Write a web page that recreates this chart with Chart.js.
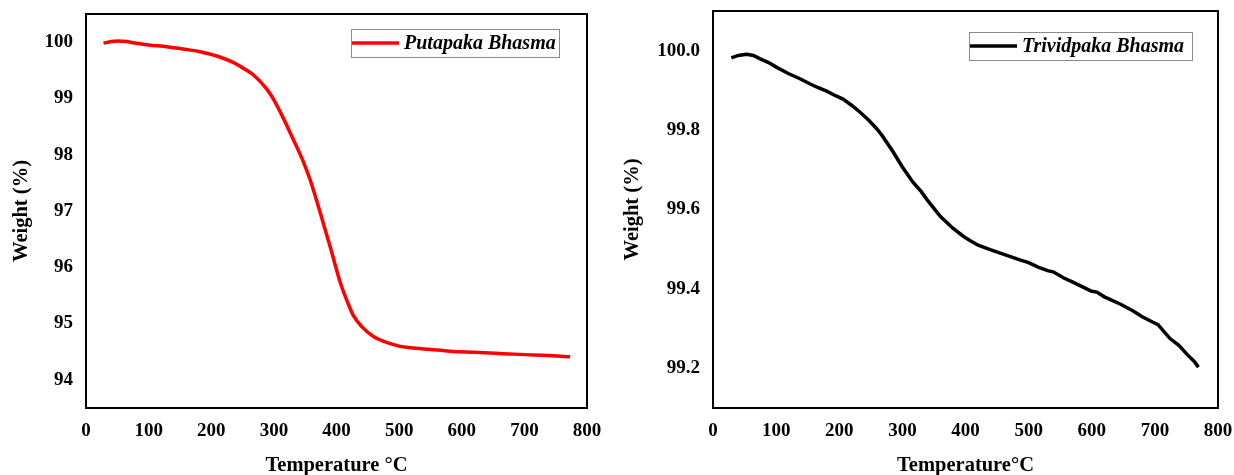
<!DOCTYPE html>
<html>
<head>
<meta charset="utf-8">
<script src="https://cdn.jsdelivr.net/npm/chart.js@4"></script>
<style>
  html, body { margin: 0; padding: 0; background: #fff; }
  #wrap { position: relative; width: 1234px; height: 475px; }
  #chart-putapaka { position: absolute; left: 0; top: 0; }
  #chart-trividpaka { position: absolute; left: 610px; top: 0; }
</style>
</head>
<body>
<div id="wrap">
  <canvas id="chart-putapaka" width="610" height="475"></canvas>
  <canvas id="chart-trividpaka" width="624" height="475"></canvas>
</div>
<script>
// Putapaka Bhasma TGA curve
const putapakaTemp = [28, 40, 51, 65, 75, 100, 129, 155, 182, 210, 235, 246, 267, 289, 299, 315, 331, 345, 358, 374, 390, 406, 418, 427, 440, 459, 481, 500, 518, 550, 581, 620, 661, 714, 745, 773];
const putapakaWeight = [99.98, 100.01, 100.02, 100.01, 99.99, 99.95, 99.92, 99.88, 99.83, 99.75, 99.64, 99.57, 99.42, 99.16, 98.99, 98.65, 98.27, 97.93, 97.55, 96.97, 96.36, 95.73, 95.37, 95.14, 94.95, 94.77, 94.66, 94.6, 94.57, 94.54, 94.51, 94.49, 94.47, 94.44, 94.43, 94.41];

// Trividpaka Bhasma TGA curve
const trividpakaTemp = [29, 40, 53, 64, 74, 88, 101, 120, 137, 154, 165, 180, 195, 206, 220, 233, 246, 259, 268, 285, 300, 317, 330, 339, 360, 380, 397, 407, 420, 439, 455, 470, 486, 500, 515, 530, 539, 555, 570, 592, 600, 608, 620, 645, 665, 680, 697, 705, 724, 738, 751, 762, 769];
const trividpakaWeight = [99.982, 99.988, 99.991, 99.988, 99.98, 99.97, 99.958, 99.942, 99.93, 99.916, 99.908, 99.898, 99.886, 99.878, 99.862, 99.845, 99.826, 99.804, 99.786, 99.746, 99.707, 99.668, 99.645, 99.625, 99.583, 99.553, 99.532, 99.522, 99.51, 99.499, 99.49, 99.482, 99.473, 99.466, 99.455, 99.446, 99.443, 99.428, 99.417, 99.4, 99.394, 99.392, 99.38, 99.362, 99.345, 99.33, 99.316, 99.31, 99.275, 99.258, 99.235, 99.218, 99.203];

const tempTicks = [0, 100, 200, 300, 400, 500, 600, 700, 800];
const putapakaTicks = [94, 95, 96, 97, 98, 99, 100];
const trividpakaTicks = [99.2, 99.4, 99.6, 99.8, 100.0];

const serif = "'Liberation Serif', 'Times New Roman', serif";

const toPoints = (xs, ys) => xs.map((x, i) => ({ x: x, y: ys[i] }));

// frame around the plot + boxed legend inside the top right corner
const framePlugin = {
  id: 'frame',
  afterDraw(chart, args, opts) {
    const { ctx, chartArea } = chart;
    ctx.save();
    ctx.strokeStyle = '#000';
    ctx.lineWidth = 2;
    ctx.strokeRect(chartArea.left, chartArea.top, chartArea.right - chartArea.left, chartArea.bottom - chartArea.top);

    const ds = chart.data.datasets[0];
    const bx = chartArea.right - opts.insetRight - opts.width;
    const by = chartArea.top + opts.insetTop;
    ctx.lineWidth = 1;
    ctx.strokeStyle = '#8a8a8a';
    ctx.strokeRect(bx + 0.5, by + 0.5, opts.width, opts.height);
    const my = by + opts.height / 2;
    ctx.strokeStyle = ds.borderColor;
    ctx.lineWidth = 3.5;
    ctx.beginPath();
    ctx.moveTo(bx + 1, my);
    ctx.lineTo(bx + 48, my);
    ctx.stroke();
    ctx.fillStyle = '#000';
    ctx.font = 'italic bold 20px ' + serif;
    ctx.textBaseline = 'middle';
    ctx.textAlign = 'left';
    ctx.fillText(ds.label, bx + 53, my + 1);
    ctx.restore();
  },
};

const makeChart = (id, cfg) => {
  return new Chart(document.getElementById(id), {
    type: 'line',
    data: {
      datasets: [
        {
          label: cfg.label,
          data: toPoints(cfg.xs, cfg.ys),
          borderColor: cfg.color,
          borderWidth: cfg.lineWidth,
          pointRadius: 0,
          cubicInterpolationMode: cfg.smooth ? 'monotone' : 'default',
          tension: 0,
          fill: false,
        },
      ],
    },
    options: {
      responsive: false,
      animation: false,
      events: [],
      layout: {
        padding: { left: 0, top: cfg.padTop, right: cfg.padRight, bottom: 0 },
      },
      plugins: {
        legend: { display: false },
        tooltip: { enabled: false },
        frame: cfg.legendBox,
      },
      scales: {
        x: {
          type: 'linear',
          min: 0,
          max: 800,
          afterBuildTicks: (scale) => { scale.ticks = tempTicks.map((v) => ({ value: v })); },
          afterFit: (scale) => {
            scale.height = 67;
            scale.paddingLeft = 0;
            scale.paddingRight = 0;
          },
          grid: { display: false, drawTicks: false },
          border: { display: false },
          ticks: {
            color: '#000',
            padding: 12,
            maxRotation: 0,
            font: { family: serif, size: 19, weight: 'bold' },
          },
          title: {
            display: true,
            text: cfg.xTitle,
            color: '#000',
            padding: { top: 0, bottom: 0 },
            font: { family: serif, size: 20.5, weight: 'bold', lineHeight: 0.95 },
          },
        },
        y: {
          type: 'linear',
          min: cfg.yMin,
          max: cfg.yMax,
          afterBuildTicks: (scale) => { scale.ticks = cfg.yTicks.map((v) => ({ value: v })); },
          afterFit: (scale) => {
            scale.width = cfg.yWidth;
            scale.paddingTop = 0;
            scale.paddingBottom = 0;
          },
          grid: { display: false, drawTicks: false },
          border: { display: false },
          ticks: {
            color: '#000',
            padding: 13,
            font: { family: serif, size: 19, weight: 'bold' },
            callback: (v) => v.toFixed(cfg.decimals),
          },
          title: {
            display: true,
            text: 'Weight (%)',
            color: '#000',
            padding: { top: cfg.yTitlePad, bottom: 0 },
            font: { family: serif, size: 20.5, weight: 'bold', lineHeight: 1 },
          },
        },
      },
    },
    plugins: [framePlugin],
  });
};

makeChart('chart-putapaka', {
  label: 'Putapaka Bhasma',
  xs: putapakaTemp,
  ys: putapakaWeight,
  color: '#ff0000',
  lineWidth: 3.5,
  smooth: true,
  yMin: 93.5,
  yMax: 100.5,
  yTicks: putapakaTicks,
  decimals: 0,
  yWidth: 86,
  yTitlePad: 11,
  padTop: 14,
  padRight: 23,
  xTitle: 'Temperature °C',
  legendBox: { insetRight: 28, insetTop: 15, width: 208, height: 28 },
});

makeChart('chart-trividpaka', {
  label: 'Trividpaka Bhasma',
  xs: trividpakaTemp,
  ys: trividpakaWeight,
  color: '#000000',
  lineWidth: 3.5,
  smooth: false,
  yMin: 99.1,
  yMax: 100.1,
  yTicks: trividpakaTicks,
  decimals: 1,
  yWidth: 103,
  yTitlePad: 12,
  padTop: 11,
  padRight: 16,
  xTitle: 'Temperature°C',
  legendBox: { insetRight: 26, insetTop: 21, width: 223, height: 28 },
});
</script>
</body>
</html>
